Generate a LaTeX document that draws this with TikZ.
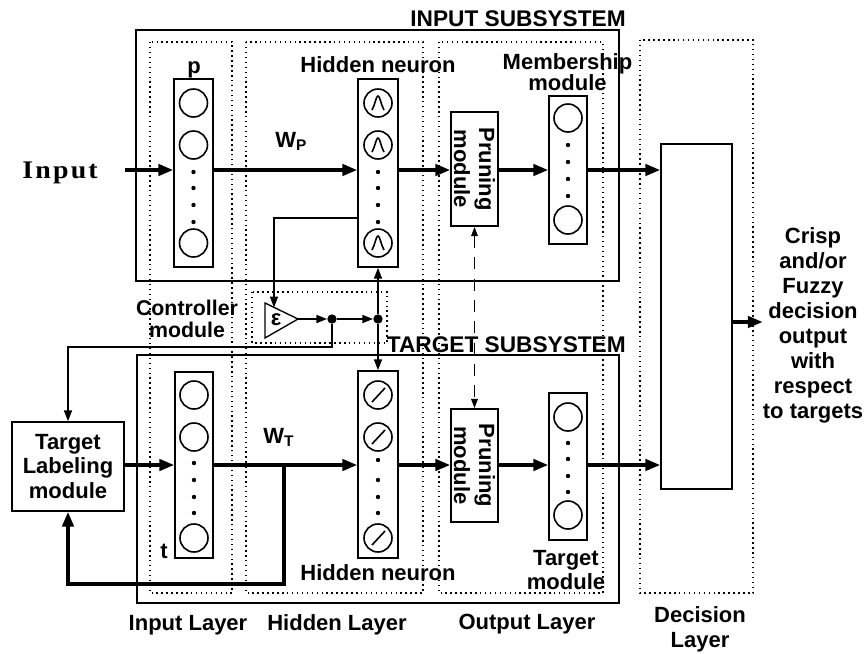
\documentclass[tikz,border=0pt]{standalone}
\usepackage{fontspec}
\setmainfont{Liberation Sans}
\newfontfamily\inputfont{Liberation Serif}[LetterSpace=8]
\usetikzlibrary{arrows.meta}
\def\pxu{0.75pt}
\begin{document}
\begin{tikzpicture}[x=0.75pt,y=-0.75pt,
  txt/.style={font=\fontsize{16.5}{18.75}\selectfont\bfseries, inner sep=0pt, align=center},
  sz/.style 2 args={minimum width=#1*\pxu, minimum height=#2*\pxu},
  modbox/.style={draw, line width=1.3pt, inner sep=0pt},
  subsys/.style={draw, line width=1.4pt},
  layerbox/.style={draw, line width=1.1pt, dash pattern=on 1.1pt off 2.6pt},
  bigarrow/.style={line width=2.4pt, -{Triangle[length=11pt,width=8.5pt]}},
  thinarrow/.style={line width=1pt, -{Triangle[length=8pt,width=6pt]}},
  thinline/.style={line width=1pt},
  neuron/.style={line width=1.2pt},
  bigdot/.style={circle, fill, inner sep=0pt, minimum size=7pt},
]
\useasboundingbox (0,0) rectangle (865,654);

% subsystem boxes
\draw[subsys] (136,30) rectangle (619,281);
\draw[subsys] (137,355) rectangle (619,603);

% dotted layer columns
\draw[layerbox] (150,42) rectangle (232,593);
\draw[layerbox] (246,42) rectangle (423,593);
\draw[layerbox] (439,42) rectangle (603,593);
\draw[layerbox] (640,40) rectangle (753,593);
\draw[layerbox] (252,292) rectangle (387,343);

% titles
\node[txt, font=\fontsize{17}{20}\selectfont\bfseries, anchor=base east] (insys) at (626,26) {INPUT SUBSYSTEM};
\node[txt, font=\fontsize{17}{20}\selectfont\bfseries, anchor=base east] (tgsys) at (626,352) {TARGET SUBSYSTEM};

% modules
\node[modbox, sz={39}{188}] (pbox) at (193.5,173) {};
\node[modbox, sz={40}{188}] (hidI) at (378,173) {};
\node[modbox, sz={47}{114}] (prI) at (474.5,169) {};
\node[txt, rotate=-90] (prIt) at (prI.center) {Pruning\\module};
\node[modbox, sz={38}{148}] (memI) at (568,170) {};
\node[modbox, sz={71}{345}] (dec) at (696.5,316.5) {};

\node[modbox, sz={38}{186}] (tbox) at (194,465) {};
\node[modbox, sz={40}{187}] (hidT) at (378,464.5) {};
\node[modbox, sz={47}{113}] (prT) at (474.5,465.5) {};
\node[txt, rotate=-90] (prTt) at (prT.center) {Pruning\\module};
\node[modbox, sz={38}{147}] (memT) at (568,466.5) {};
\node[modbox, sz={112}{89}, txt, draw, line width=1.3pt, font=\fontsize{16.5}{18.5}\selectfont\bfseries] (lab) at (68,466.5) {Target\\Labeling\\module};

% neurons: plain circles
\foreach \x/\y in {193.5/103,193.5/145,193.5/243,194/395,194/437,194/538,568/118,568/220,568/417,568/515}
  \draw[neuron] (\x,\y) circle[radius=14];
% hidden input neurons with bell shape
\foreach \y in {103,145,243}{
  \draw[neuron] (378,\y) circle[radius=14];
  \draw[neuron] ({372},{\y+7}) .. controls ({375},{\y+2}) and ({376},{\y-7}) .. ({378},{\y-7})
     .. controls ({380},{\y-7}) and ({381},{\y+2}) .. ({384},{\y+7});
}
% hidden target neurons with linear slash
\foreach \y in {395,437,538}{
  \draw[neuron] (378,\y) circle[radius=14];
  \draw[neuron] ({372},{\y+7}) -- ({385},{\y-7});
}
% ellipsis dots
\foreach \x/\y in {193.5/172,193.5/188,193.5/205,193.5/222,378/172,378/188,378/205,378/222,
                   568/145,568/162,568/179,568/196,194/463,194/480,194/497,194/513,
                   378/460,378/480,378/497,378/513,568/443,568/459,568/476,568/492}
  \fill (\x,\y) circle[radius=2.2];

% labels
\node[anchor=base west, inner sep=0pt] (inlbl) at (22,178) {\inputfont\fontsize{19}{22}\selectfont\bfseries\scalebox{1.1}[1]{Input}};
\node[txt, anchor=base] (plbl) at (194,73) {p};
\node[txt, anchor=base] (tlbl) at (164,558) {t};
\node[txt, anchor=base] (hnI) at (378,72) {Hidden neuron};
\node[txt, anchor=base] (hnT) at (378,580) {Hidden neuron};
\node[txt, font=\fontsize{16.5}{15.75}\selectfont\bfseries] (memlbl) at (567.5,72.5) {Membership\\module};
\node[txt, font=\fontsize{16.5}{18}\selectfont\bfseries] (tmlbl) at (566,570) {Target\\module};
\node[txt, font=\fontsize{16}{16.5}\selectfont\bfseries] (ctllbl) at (187,319) {Controller\\module};
\node[txt, anchor=base west] (wp) at (275,147) {W\textsubscript{P}};
\node[txt, anchor=base west] (wt) at (263,443) {W\textsubscript{T}};
\node[txt] (crisp) at (813,325) {Crisp\\and/or\\Fuzzy\\decision\\output\\with\\respect\\to targets};
\node[txt, anchor=base] (lIn) at (188,630) {Input Layer};
\node[txt, anchor=base] (lHid) at (337,630) {Hidden Layer};
\node[txt, anchor=base] (lOut) at (527,629) {Output Layer};
\node[txt] (lDec) at (700,629.5) {Decision\\Layer};

% controller
\draw[thinline] (265,303) -- (298,319) -- (265,338) -- cycle;
\coordinate (epsTip) at (298,319);
\coordinate (epsTop) at (274,307.4);
\node[txt] (epslbl) at (276,320) {ε};
\node[bigdot] (dot1) at (332,319) {};
\node[bigdot] (dot2) at (378,319) {};

% coordinates
\coordinate (rowI) at (0,170);
\coordinate (rowT) at (0,465);
\coordinate (inA) at (125,170);
\coordinate (fbA) at (284,465);
\coordinate (fbB) at (100,584);
\coordinate (ctlIn) at (0,218);
\coordinate (ctlOut) at (200,347);
\coordinate (outRow) at (0,322);

% input flow
\draw[bigarrow] (inA) -- (pbox.west |- rowI);
\draw[bigarrow] (pbox.east |- rowI) -- (hidI.west |- rowI);
\draw[bigarrow] (hidI.east |- rowI) -- (prI.west |- rowI);
\draw[bigarrow] (prI.east |- rowI) -- (memI.west |- rowI);
\draw[bigarrow] (memI.east |- rowI) -- (dec.west |- rowI);
% target flow
\draw[bigarrow] (lab.east |- rowT) -- (tbox.west |- rowT);
\draw[bigarrow] (tbox.east |- rowT) -- (hidT.west |- rowT);
\draw[bigarrow] (hidT.east |- rowT) -- (prT.west |- rowT);
\draw[bigarrow] (prT.east |- rowT) -- (memT.west |- rowT);
\draw[bigarrow] (memT.east |- rowT) -- (dec.west |- rowT);
\draw[bigarrow] (fbA) |- (fbB) -| (lab.south);
% output
\draw[bigarrow] (dec.east |- outRow) -- (crisp.west |- outRow);

% controller connections
\draw[thinarrow] (hidI.west |- ctlIn) -| (epsTop);
\draw[thinarrow] (epsTip) -- (dot1);
\draw[thinarrow] (dot1) -- (dot2);
\draw[thinarrow] (dot2) -- (hidI.south);
\draw[thinarrow] (dot2) -- (hidT.north);
\draw[thinarrow] (dot1) |- (ctlOut) -| (lab.north);

% pruning link
\draw[line width=1pt, dash pattern=on 9pt off 7pt, {Triangle[length=7pt,width=5pt]}-{Triangle[length=7pt,width=5pt]}] (prI.south) -- (prT.north);
\end{tikzpicture}
\end{document}
